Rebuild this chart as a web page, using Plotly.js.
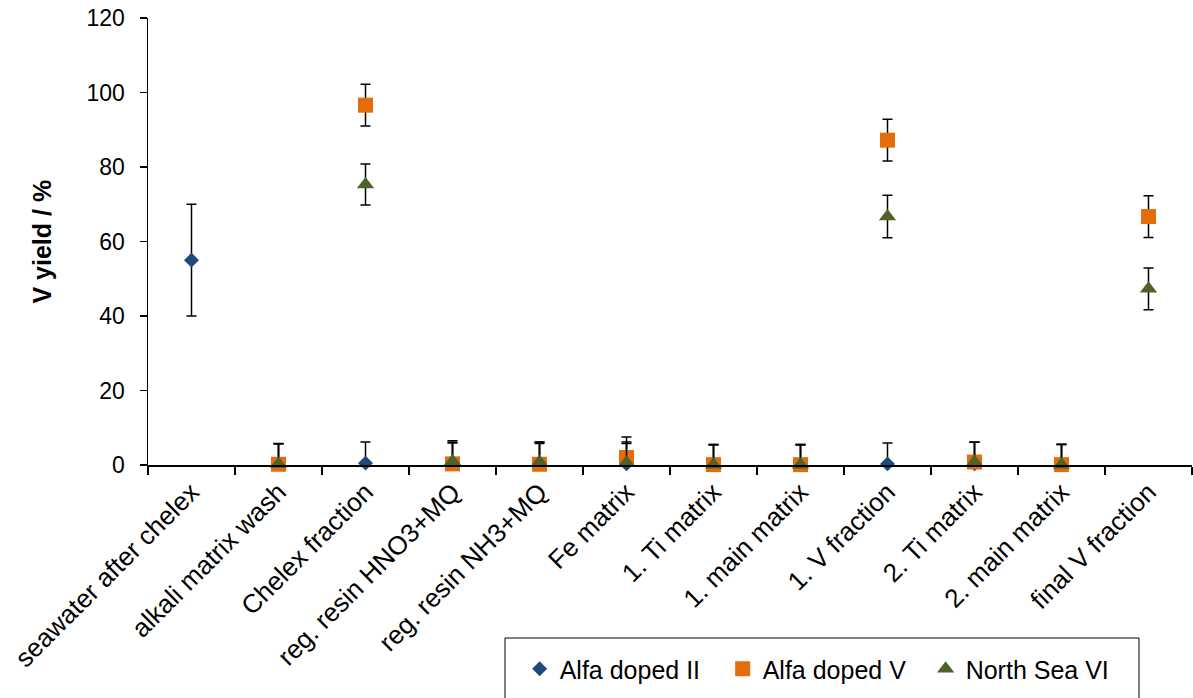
<!DOCTYPE html>
<html>
<head>
<meta charset="utf-8">
<script src="https://cdn.plot.ly/plotly-3.0.1.min.js"></script>
<style>html,body{margin:0;padding:0;background:#fff;}#chart{width:1193px;height:698px;}</style>
</head>
<body>
<div id="chart"></div>
<script>
var categories = ["seawater after chelex", "alkali matrix wash", "Chelex fraction", "reg. resin HNO3+MQ", "reg. resin NH3+MQ", "Fe matrix", "1. Ti matrix", "1. main matrix", "1. V fraction", "2. Ti matrix", "2. main matrix", "final V fraction"];

var alfaIIValues = [55, 0.3, 0.5, 0.3, 0.3, 0.3, 0.1, 0.1, 0.3, 0.3, 0.1, null];
var alfaIIErrors = [15, 5.5, 5.7, 5.8, 5.8, 5.5, 5.4, 5.4, 5.6, 5.8, 5.5, null];

var alfaVValues = [null, 0.2, 96.6, 0.3, 0.2, 2.0, 0.1, 0.1, 87.2, 0.8, 0.1, 66.7];
var alfaVErrors = [null, 5.5, 5.6, 5.6, 5.6, 5.5, 5.4, 5.4, 5.6, 5.3, 5.4, 5.6];

var northSeaValues = [null, 0.3, 75.3, 1.0, 0.8, 0.6, 0.1, 0.1, 66.7, 0.8, 0.1, 47.3];
var northSeaErrors = [null, 5.4, 5.5, 5.5, 5.4, 5.6, 5.3, 5.3, 5.7, 5.3, 5.4, 5.6];

var seriesNames = ["Alfa doped II", "Alfa doped V", "North Sea VI"];
var yTickValues = [0, 20, 40, 60, 80, 100, 120];
var yTitle = "V yield / %";

var FONT = "Arial, 'Liberation Sans', sans-serif";

function minus(vals, errs) {
  // lower error bar is cut at the axis minimum (0), as in the original chart
  return errs.map(function (e, i) { return (e === null || vals[i] === null) ? null : Math.min(e, vals[i]); });
}

function makeTrace(name, vals, errs, symbol, size, color) {
  return {
    type: "scatter",
    mode: "markers",
    name: name,
    x: categories,
    y: vals,
    cliponaxis: false,
    marker: { symbol: symbol, size: size, color: color, line: { width: 0 } },
    error_y: {
      type: "data",
      symmetric: false,
      array: errs,
      arrayminus: minus(vals, errs),
      color: "#000000",
      thickness: 1.5,
      width: 5
    }
  };
}

var data = [
  makeTrace(seriesNames[0], alfaIIValues, alfaIIErrors, "diamond", 11.5, "#1F497D"),
  makeTrace(seriesNames[1], alfaVValues, alfaVErrors, "square", 15, "#E46C0A"),
  makeTrace(seriesNames[2], northSeaValues, northSeaErrors, "triangle-up", 15, "#4F6228")
];

var layout = {
  width: 1193,
  height: 698,
  margin: { l: 148, r: 1, t: 18, b: 233 },
  paper_bgcolor: "#ffffff",
  plot_bgcolor: "#ffffff",
  font: { family: FONT, color: "#000000", size: 22 },
  showlegend: true,
  legend: {
    orientation: "h",
    x: 0.356, xanchor: "left",
    y: -0.405, yanchor: "top",
    font: { family: FONT, size: 25, color: "#000000" },
    bgcolor: "rgba(0,0,0,0)",
    borderwidth: 0,
    entrywidth: 158,
    entrywidthmode: "pixels",
    itemclick: false
  },
  xaxis: {
    type: "category",
    range: [-0.5, 11.5],
    showline: true, linecolor: "#000000", linewidth: 1.5,
    ticks: "outside", tickson: "boundaries", ticklen: 8, tickcolor: "#000000", tickwidth: 1.5,
    tickangle: -45,
    tickfont: { family: FONT, size: 26, color: "#000000" },
    showgrid: false, zeroline: false,
    automargin: false
  },
  yaxis: {
    range: [0, 120],
    tickvals: yTickValues,
    ticktext: yTickValues.map(String),
    showline: true, linecolor: "#000000", linewidth: 1.5,
    ticks: "outside", ticklen: 7, tickcolor: "#000000", tickwidth: 1.5,
    tickfont: { family: FONT, size: 23, color: "#000000" },
    ticklabelstandoff: 10,
    showgrid: false, zeroline: false,
    automargin: false
  },
  annotations: [{
    text: "<b>" + yTitle + "</b>",
    xref: "paper", yref: "paper",
    x: (41 - 148) / 1044, y: 0.5,
    xanchor: "center", yanchor: "middle",
    textangle: -90, showarrow: false,
    font: { family: FONT, size: 25, color: "#000000" }
  }],
  shapes: [{
    type: "rect", xref: "paper", yref: "paper",
    x0: (505 - 148) / 1044, x1: (1139 - 148) / 1044,
    y0: (465 - 638) / 447, y1: (465 - 710) / 447,
    line: { color: "#000000", width: 1 }, fillcolor: "rgba(0,0,0,0)", layer: "above"
  }]
};

Plotly.newPlot("chart", data, layout, { displayModeBar: false, staticPlot: true });
</script>
</body>
</html>
